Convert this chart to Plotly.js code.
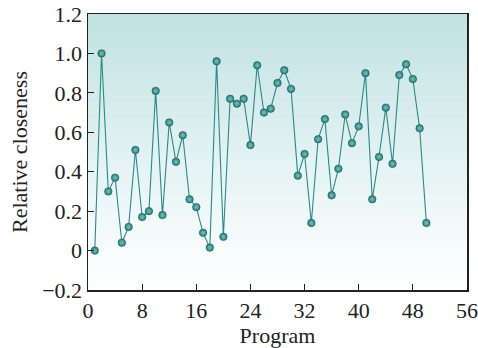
<!DOCTYPE html>
<html>
<head>
<meta charset="utf-8">
<script src="https://cdn.plot.ly/plotly-3.0.1.min.js"></script>
<style>html,body{margin:0;padding:0;background:#fff;}#chart{width:478px;height:348px;}</style>
</head>
<body>
<div id="chart"></div>
<script>
const programs = [1,2,3,4,5,6,7,8,9,10,11,12,13,14,15,16,17,18,19,20,21,22,23,24,25,26,27,28,29,30,31,32,33,34,35,36,37,38,39,40,41,42,43,44,45,46,47,48,49,50];
const closeness = [0.00,1.00,0.30,0.37,0.04,0.12,0.51,0.17,0.20,0.81,0.18,0.65,0.45,0.585,0.26,0.22,0.09,0.015,0.96,0.07,0.77,0.745,0.77,0.535,0.94,0.70,0.72,0.85,0.915,0.82,0.38,0.49,0.14,0.565,0.667,0.28,0.415,0.69,0.545,0.63,0.90,0.26,0.475,0.725,0.44,0.89,0.945,0.87,0.62,0.14];
const xTicks = [0,8,16,24,32,40,48,56];
const yTicks = [-0.2,0,0.2,0.4,0.6,0.8,1.0,1.2];
const yTickText = ['\u22120.2','0','0.2','0.4','0.6','0.8','1.0','1.2'];

// background gradient bands
const bgShapes = [];
const NB = 60;
const topColor = [196,227,227], botColor = [254,255,255];
for (let i = 0; i < NB; i++) {
  const t = i / (NB - 1); // 0 bottom -> 1 top
  const f = Math.min(1, Math.pow(t, 1.1) * 1.05);
  const c = botColor.map((b, k) => Math.round(b + (topColor[k] - b) * f));
  bgShapes.push({type:'rect', xref:'x domain', yref:'y domain', x0:0, x1:1,
    y0:i/NB, y1:(i+1)/NB + 0.002, fillcolor:'rgb('+c.join(',')+')', line:{width:0}, layer:'below'});
}

const trace = {
  x: programs, y: closeness, type:'scatter', mode:'lines+markers',
  line:{color:'#2a8a88', width:1.1},
  marker:{size:7.5, color:'#23807e', line:{color:'#1a5a59', width:0.6},
    gradient:{type:'radial', color:'#7cc2bf'}},
  hoverinfo:'skip'
};

const font = {family:'"Liberation Serif", "DejaVu Serif", serif', size:22, color:'#222'};
const layout = {
  width:478, height:348,
  margin:{l:88, r:11, t:14, b:58},
  paper_bgcolor:'#ffffff', plot_bgcolor:'rgba(0,0,0,0)',
  showlegend:false, shapes: bgShapes, font: font,
  xaxis:{range:[0,56], tickvals:xTicks, ticktext:xTicks.map(String), ticks:'inside', ticklen:6,
    tickcolor:'#222', showline:true, linecolor:'#222', linewidth:1.5, mirror:true,
    showgrid:false, zeroline:false, tickfont:font,
    title:{text:'Program', font:font, standoff:2}},
  yaxis:{range:[-0.2,1.2], tickvals:yTicks, ticktext:yTickText, ticks:'inside', ticklen:6,
    tickcolor:'#222', showline:true, linecolor:'#222', linewidth:1.5, mirror:true,
    showgrid:false, zeroline:false, tickfont:font,
    title:{text:'Relative closeness', font:font, standoff:8}}
};
Plotly.newPlot('chart', [trace], layout, {displayModeBar:false, staticPlot:true});
</script>
</body>
</html>
